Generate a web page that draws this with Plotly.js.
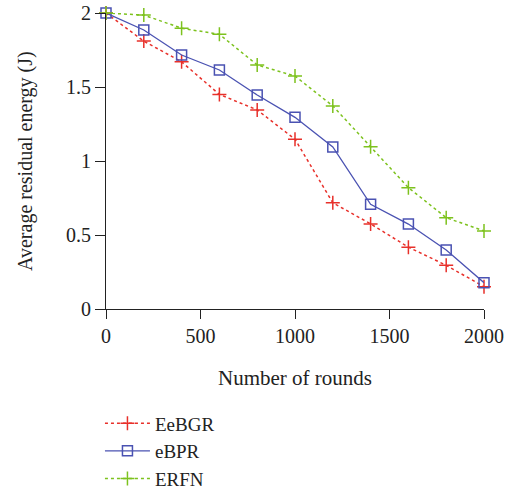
<!DOCTYPE html>
<html>
<head>
<meta charset="utf-8">
<script src="https://cdn.plot.ly/plotly-3.0.1.min.js"></script>
<style>html,body{margin:0;padding:0;background:#fff;}#chart{width:513px;height:490px;}</style>
</head>
<body>
<div id="chart"></div>
<script>
var rounds = [0, 200, 400, 600, 800, 1000, 1200, 1400, 1600, 1800, 2000];
var eebgr = [2.0, 1.81, 1.67, 1.45, 1.345, 1.147, 0.718, 0.575, 0.418, 0.295, 0.151];
var ebpr  = [2.0, 1.885, 1.716, 1.615, 1.446, 1.295, 1.095, 0.707, 0.574, 0.399, 0.178];
var erfn  = [2.0, 1.986, 1.897, 1.856, 1.649, 1.574, 1.372, 1.097, 0.82, 0.617, 0.527];
var seriesNames = ["EeBGR", "eBPR", "ERFN"];
var xTicks = [0, 500, 1000, 1500, 2000];
var yTicks = [0, 0.5, 1, 1.5, 2];
var yTickText = ["0", "0.5", "1", "1.5", "2"];
var xTitle = "Number of rounds";
var yTitle = "Average residual energy (J)";

var font = "Liberation Serif, Times New Roman, serif";
var ink = "#222";
var traces = [
  {x: rounds, y: eebgr, name: seriesNames[0], type: "scatter", mode: "lines+markers",
   line: {color: "#e8302a", width: 1.5, dash: "dot"},
   marker: {symbol: "cross-thin-open", size: 10, color: "#e8302a", line: {color: "#e8302a", width: 1.5}},
   cliponaxis: false, legendgroup: "a"},
  {x: rounds, y: ebpr, name: seriesNames[1], type: "scatter", mode: "lines+markers",
   line: {color: "#4a52b2", width: 1.3},
   marker: {symbol: "square-open", size: 10, color: "#4a52b2", line: {color: "#4a52b2", width: 1.5}},
   cliponaxis: false, legendgroup: "b"},
  {x: rounds, y: erfn, name: seriesNames[2], type: "scatter", mode: "lines+markers",
   line: {color: "#7dc21e", width: 1.5, dash: "dot"},
   marker: {symbol: "cross-thin-open", size: 10, color: "#7dc21e", line: {color: "#7dc21e", width: 1.5}},
   cliponaxis: false, legendgroup: "c"}
];

var layout = {
  width: 513, height: 490,
  margin: {l: 106, r: 29, t: 13, b: 181, autoexpand: false},
  paper_bgcolor: "#fff", plot_bgcolor: "#fff",
  font: {family: font, size: 20, color: ink},
  showlegend: true,
  legend: {x: -0.016, y: -0.322, xanchor: "left", yanchor: "top",
           traceorder: "grouped", tracegroupgap: 0, itemwidth: 45,
           font: {family: font, size: 19, color: ink}, bgcolor: "rgba(0,0,0,0)"},
  xaxis: {range: [0, 2000], tickvals: xTicks, ticktext: xTicks.map(String),
          showline: true, linecolor: ink, linewidth: 1, ticks: "outside", ticklen: 9,
          tickcolor: ink, showgrid: false, zeroline: false,
          tickfont: {family: font, size: 20, color: ink}},
  yaxis: {range: [0, 2], tickvals: yTicks, ticktext: yTickText,
          showline: true, linecolor: ink, linewidth: 1, ticks: "outside", ticklen: 10,
          tickcolor: ink, showgrid: false, zeroline: false,
          tickfont: {family: font, size: 20, color: ink}},
  annotations: [
    {text: xTitle, xref: "paper", yref: "paper", x: 0.5, y: -0.233, xanchor: "center", yanchor: "middle",
     showarrow: false, font: {family: font, size: 21, color: ink}},
    {text: yTitle, xref: "paper", yref: "paper", x: -0.2143, y: 0.5, xanchor: "center", yanchor: "middle",
     textangle: -90, showarrow: false, font: {family: font, size: 20, color: ink}}
  ]
};
Plotly.newPlot("chart", traces, layout, {displayModeBar: false, staticPlot: true});
</script>
</body>
</html>
